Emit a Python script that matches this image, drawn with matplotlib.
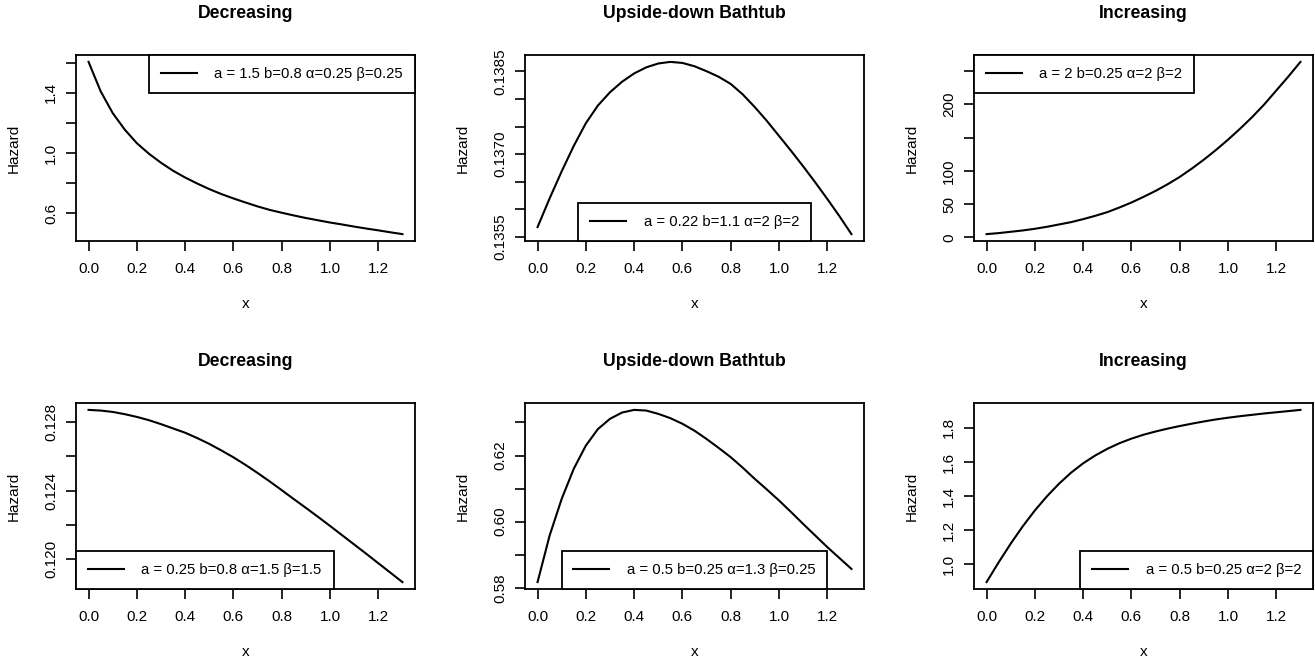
import matplotlib
matplotlib.use("Agg")
from matplotlib import pyplot as plt

plt.rcParams['font.family'] = ['Liberation Sans', 'DejaVu Sans']

# common x grid (0 .. 1.3, step 0.05)
x = [0.00, 0.05, 0.10, 0.15, 0.20, 0.25, 0.30, 0.35, 0.40, 0.45, 0.50, 0.55, 0.60, 0.65,
     0.70, 0.75, 0.80, 0.85, 0.90, 0.95, 1.00, 1.05, 1.10, 1.15, 1.20, 1.25, 1.30]

# top row
dec1 = [1.605, 1.41, 1.265, 1.155, 1.065, 0.995, 0.935, 0.882, 0.837, 0.797, 0.760, 0.727,
        0.698, 0.671, 0.645, 0.622, 0.603, 0.585, 0.568, 0.553, 0.538, 0.525, 0.511, 0.498,
        0.486, 0.473, 0.461]
ubt1 = [0.135681, 0.136200, 0.136690, 0.137150, 0.137560, 0.137880, 0.138120, 0.138310,
        0.138460, 0.138570, 0.138640, 0.138669, 0.138650, 0.138590, 0.138500, 0.138400,
        0.138270, 0.138080, 0.137850, 0.137600, 0.137330, 0.137060, 0.136780, 0.136490,
        0.136190, 0.135880, 0.135554]
inc1 = [5, 6.5, 8.5, 10.5, 13, 16, 19.5, 23, 27.5, 32.5, 38, 45, 52.5, 61, 70, 80, 91, 103.5,
        117, 131.5, 147, 163.5, 181, 200, 221, 242, 264]

# bottom row
dec2 = [0.128699, 0.128660, 0.128580, 0.128450, 0.128290, 0.128100, 0.127870, 0.127620,
        0.127370, 0.127060, 0.126720, 0.126340, 0.125940, 0.125500, 0.125030, 0.124540,
        0.124030, 0.123510, 0.123000, 0.122480, 0.121950, 0.121410, 0.120870, 0.120330,
        0.119780, 0.119230, 0.118680]
ubt2 = [0.58171, 0.5958, 0.6069, 0.6160, 0.6230, 0.6280, 0.6311, 0.6330, 0.6338, 0.6336,
        0.6326, 0.6313, 0.6296, 0.6275, 0.6250, 0.6223, 0.6195, 0.6163, 0.6129, 0.6097,
        0.6064, 0.6029, 0.5993, 0.5958, 0.5923, 0.5890, 0.5857]
inc2 = [0.894, 1.01, 1.12, 1.222, 1.315, 1.398, 1.472, 1.537, 1.592, 1.638, 1.677, 1.71,
        1.737, 1.76, 1.779, 1.796, 1.811, 1.825, 1.838, 1.85, 1.86, 1.869, 1.877, 1.885,
        1.892, 1.899, 1.906]

titles = ["Decreasing", "Upside-down Bathtub", "Increasing",
          "Decreasing", "Upside-down Bathtub", "Increasing"]
legend_labels = ["a = 1.5 b=0.8 α=0.25 β=0.25", "a = 0.22 b=1.1 α=2 β=2",
                 "a = 2 b=0.25 α=2 β=2", "a = 0.25 b=0.8 α=1.5 β=1.5",
                 "a = 0.5 b=0.25 α=1.3 β=0.25", "a = 0.5 b=0.25 α=2 β=2"]
legend_locs = ["upper right", "lower center", "upper left",
               "lower left", "lower center", "lower right"]

xticks = [0.0, 0.2, 0.4, 0.6, 0.8, 1.0, 1.2]
xticklabels = ["0.0", "0.2", "0.4", "0.6", "0.8", "1.0", "1.2"]

# R drops labels that would overlap, so some ticks stay blank
yticks = [
    [0.6, 0.8, 1.0, 1.2, 1.4, 1.6],
    [0.1355, 0.1360, 0.1365, 0.1370, 0.1375, 0.1380, 0.1385],
    [0, 50, 100, 150, 200, 250],
    [0.120, 0.122, 0.124, 0.126, 0.128],
    [0.58, 0.59, 0.60, 0.61, 0.62, 0.63],
    [1.0, 1.2, 1.4, 1.6, 1.8],
]
yticklabels = [
    ["0.6", "", "1.0", "", "1.4", ""],
    ["0.1355", "", "", "0.1370", "", "", "0.1385"],
    ["0", "50", "100", "", "200", ""],
    ["0.120", "", "0.124", "", "0.128"],
    ["0.58", "", "0.60", "", "0.62", ""],
    ["1.0", "1.2", "1.4", "1.6", "1.8"],
]
series = [dec1, ubt1, inc1, dec2, ubt2, inc2]

W, H = 1315, 660
fig = plt.figure(figsize=(W / 100, H / 100), dpi=100)

# axes boxes in pixels: left, top, width, height
lefts = [76, 525, 974]
tops = [55, 403]
bw, bh = 339, 186


def draw_panel(ax, i):
    ax.plot(x, series[i], color='black', lw=1.5)
    ax.margins(x=0.04, y=0.04)
    ax.set_xticks(xticks)
    ax.set_xticklabels(xticklabels)
    ax.set_yticks(yticks[i])
    ax.set_yticklabels(yticklabels[i])
    ax.tick_params(axis='both', direction='out', length=7, width=1.2, labelsize=11)
    ax.tick_params(axis='x', pad=8)
    ax.tick_params(axis='y', pad=6, labelrotation=90)
    for lab in ax.get_yticklabels():
        lab.set_va('center')
    for sp in ax.spines.values():
        sp.set_linewidth(1.3)
    ax.set_title(titles[i], fontsize=12.7, fontweight='bold', y=1.18, va='center')
    ax.set_xlabel("x", fontsize=11)
    ax.xaxis.set_label_coords(0.5, -0.34)
    ax.xaxis.label.set_va('center')
    ax.set_ylabel("Hazard", fontsize=11)
    ax.yaxis.set_label_coords(-0.183, 0.5)
    ax.yaxis.label.set_va('center')
    leg = ax.legend([legend_labels[i]], loc=legend_locs[i], fancybox=False,
                    edgecolor='black', framealpha=1, borderaxespad=0, fontsize=10.7,
                    handlelength=2.4, handletextpad=1.2, borderpad=0.8)
    leg.get_frame().set_linewidth(1.3)


for i in range(6):
    r, c = divmod(i, 3)
    l = lefts[c] / W
    b = 1 - (tops[r] + bh) / H
    ax = fig.add_axes([l, b, bw / W, bh / H])
    draw_panel(ax, i)

fig.savefig("out.png", dpi=100)
